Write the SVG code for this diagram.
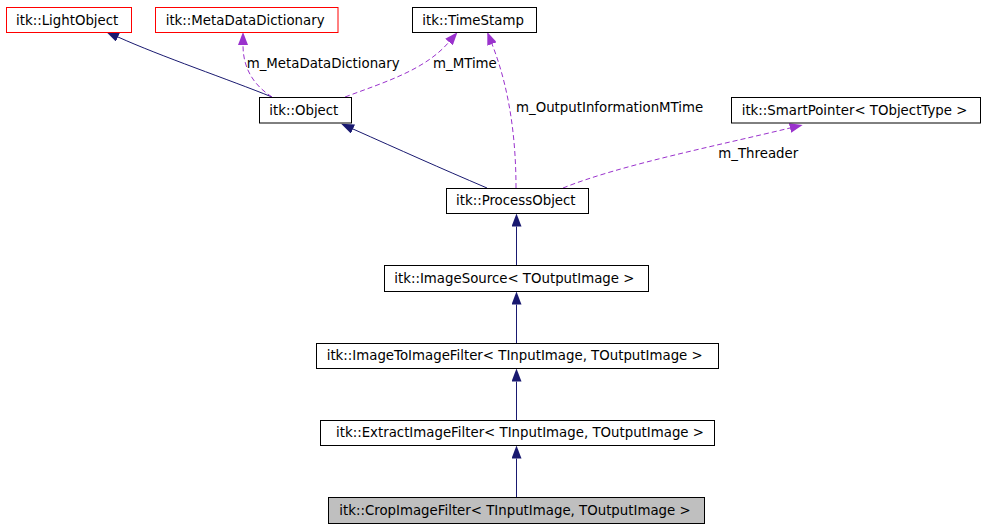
<svg xmlns="http://www.w3.org/2000/svg" width="987" height="528" viewBox="0 0 987 528">
<style>
.box{fill:#ffffff;stroke:#000000;stroke-width:1}
.red{fill:#ffffff;stroke:#ff0000;stroke-width:1}
.cur{fill:#bfbfbf;stroke:#000000;stroke-width:1}
text{font-family:"DejaVu Sans","Liberation Sans",sans-serif;font-size:13.33px;fill:#000000}
.inh{fill:none;stroke:#191970;stroke-width:1;marker-end:url(#ah)}
.use{fill:none;stroke:#9a32cd;stroke-width:1;stroke-dasharray:5,3;marker-end:url(#au)}
</style>
<defs>
<marker id="ah" markerUnits="userSpaceOnUse" viewBox="0 -5 13 10" markerWidth="13" markerHeight="10" refX="0" refY="0" orient="auto"><path d="M0,-5 L13,0 L0,5 z" fill="#191970" stroke="none"/></marker>
<marker id="au" markerUnits="userSpaceOnUse" viewBox="0 -5 13 10" markerWidth="13" markerHeight="10" refX="0" refY="0" orient="auto"><path d="M0,-5 L13,0 L0,5 z" fill="#9a32cd" stroke="none"/></marker>
</defs>
<rect width="987" height="528" fill="#ffffff"/>
<g id="connectors">
<path class="inh" d="M272,97 C230,80 160,56 118,37"/>
<path class="use" d="M272,97 C255,86 243,70 243,45"/>
<path class="use" d="M345,97 C385,82 425,70 449,42"/>
<path class="use" d="M516,188 C516,140 510,90 492,44"/>
<path class="use" d="M563,188 C620,165 720,145 790,128"/>
<path class="inh" d="M487,188 C440,168 400,150 353,129"/>
<path class="inh" d="M516.5,265 L516.5,226.5"/>
<path class="inh" d="M516.5,343 L516.5,304.5"/>
<path class="inh" d="M516.5,420 L516.5,381.5"/>
<path class="inh" d="M516.5,497 L516.5,458.5"/>
<text x="246.7" y="68">m_MetaDataDictionary</text>
<text x="433" y="68">m_MTime</text>
<text x="516" y="112">m_OutputInformationMTime</text>
<text x="718.3" y="158.3">m_Threader</text>
</g>
<g id="LightObject"><rect class="red" x="6.5" y="7.5" width="125" height="25"/><text x="16" y="24.5">itk::LightObject</text></g>
<g id="MetaDataDictionary"><rect class="red" x="155.5" y="7.5" width="182.5" height="25"/><text x="165.7" y="24.5">itk::MetaDataDictionary</text></g>
<g id="TimeStamp"><rect class="box" x="412.5" y="7.5" width="124" height="25"/><text x="422.3" y="24.5">itk::TimeStamp</text></g>
<g id="Object"><rect class="box" x="259.5" y="97.5" width="92" height="25.5"/><text x="269.3" y="114.7">itk::Object</text></g>
<g id="SmartPointer"><rect class="box" x="731.5" y="97.5" width="249" height="25.5"/><text x="741.7" y="114.7">itk::SmartPointer&lt; TObjectType &gt;</text></g>
<g id="ProcessObject"><rect class="box" x="446.5" y="188.5" width="142" height="25"/><text x="456" y="205.3">itk::ProcessObject</text></g>
<g id="ImageSource"><rect class="box" x="384.5" y="265.5" width="264" height="26"/><text x="394.3" y="283">itk::ImageSource&lt; TOutputImage &gt;</text></g>
<g id="ImageToImageFilter"><rect class="box" x="316.5" y="343.5" width="402" height="25"/><text x="326.7" y="360.3">itk::ImageToImageFilter&lt; TInputImage, TOutputImage &gt;</text></g>
<g id="ExtractImageFilter"><rect class="box" x="320.5" y="420.5" width="394" height="25"/><text x="336" y="437">itk::ExtractImageFilter&lt; TInputImage, TOutputImage &gt;</text></g>
<g id="CropImageFilter"><rect class="cur" x="328.5" y="497.5" width="376" height="26"/><text x="339.3" y="514.5">itk::CropImageFilter&lt; TInputImage, TOutputImage &gt;</text></g>
</svg>
